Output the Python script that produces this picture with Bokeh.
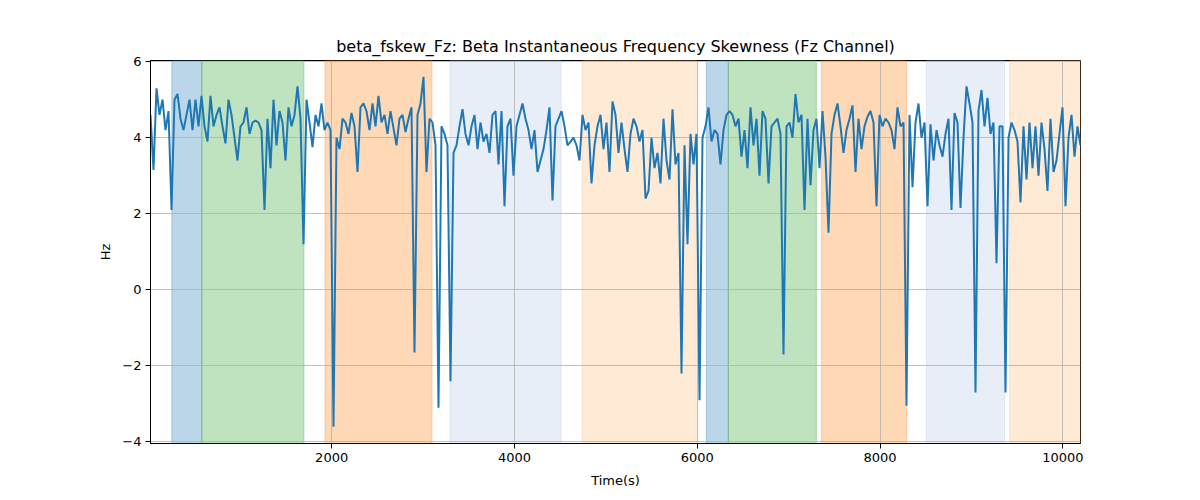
import numpy as np
from bokeh.plotting import figure
from bokeh.models import Range1d, FixedTicker, BoxAnnotation
from bokeh.embed import file_html
from bokeh.resources import INLINE

# time axis: uniform sampling from t_start to t_end
t_start = 18
t_end = 10193

fskew = [
    4.6, 3.15, 5.3, 4.6, 5.0, 4.2, 4.7, 2.1, 5.0, 5.15,
    4.5, 4.2, 4.6, 5.0, 4.2, 5.0, 4.3, 5.1, 4.3, 3.9,
    5.1, 4.3, 4.6, 4.8, 4.3, 3.85, 5.0, 4.6, 4.0, 3.4,
    4.3, 4.4, 4.8, 4.1, 4.4, 4.45, 4.4, 4.2, 2.1, 4.5,
    3.2, 5.0, 3.8, 4.7, 4.4, 3.4, 4.8, 4.3, 4.6, 5.35,
    4.5, 1.2, 5.0, 4.4, 3.75, 4.6, 4.3, 4.9, 4.2, 4.4,
    4.2, -3.6, 4.0, 3.7, 4.5, 4.4, 4.1, 4.65, 4.3, 3.1,
    4.8, 4.9, 4.7, 4.2, 4.9, 4.3, 5.1, 4.4, 4.6, 4.1,
    4.7, 4.25, 3.8, 4.5, 4.6, 4.15, 4.5, 4.8, -1.65, 4.6,
    4.9, 5.6, 3.1, 4.5, 4.4, 3.8, -3.1, 4.3, 4.1, 3.8,
    -2.4, 3.6, 3.8, 4.3, 4.75, 4.1, 3.8, 4.3, 4.6, 3.7,
    4.4, 3.9, 4.1, 3.6, 4.6, 4.7, 3.3, 4.7, 2.2, 4.3,
    4.5, 3.0, 4.3, 4.6, 4.9, 4.5, 4.2, 3.7, 4.2, 3.1,
    3.4, 3.7, 4.2, 4.8, 2.35, 4.3, 4.5, 4.7, 4.3, 3.8,
    3.9, 4.0, 3.8, 3.4, 4.6, 4.2, 4.4, 2.8, 3.8, 4.3,
    4.6, 3.7, 4.4, 3.1, 4.95, 4.6, 3.6, 4.4, 3.7, 3.1,
    4.1, 4.5, 4.3, 3.9, 4.2, 2.4, 2.6, 4.0, 3.2, 3.6,
    2.8, 4.5, 3.4, 2.9, 4.75, 3.3, 3.6, -2.2, 3.8, 1.2,
    4.1, 3.3, 4.1, -2.9, 4.0, 4.3, 4.8, 3.9, 4.2, 4.1,
    3.3, 4.2, 4.6, 4.7, 4.6, 4.3, 4.5, 3.5, 4.2, 3.2,
    4.8, 3.8, 4.5, 3.0, 4.7, 4.5, 2.8, 4.3, 4.4, 4.5,
    4.1, -1.7, 4.3, 4.4, 4.0, 5.15, 4.4, 4.6, 2.1, 4.5,
    2.75, 4.2, 4.5, 3.2, 4.7, 3.5, 1.5, 4.1, 4.6, 4.9,
    4.3, 3.6, 4.2, 4.5, 4.85, 3.1, 4.5, 3.7, 4.3, 4.55,
    4.7, 4.4, 2.2, 4.6, 4.3, 4.5, 4.4, 4.2, 3.7, 4.8,
    4.3, 4.4, -3.05, 4.6, 2.7, 4.4, 4.9, 4.0, 4.4, 2.2,
    4.35, 3.4, 4.2, 3.8, 3.5, 4.1, 4.5, 2.1, 4.65, 4.4,
    2.15, 4.0, 5.35, 4.9, 4.4, -2.7, 4.7, 5.25, 4.3, 5.05,
    4.1, 4.4, 0.7, 4.3, 4.3, -2.7, 4.0, 4.4, 4.2, 3.9,
    2.3, 4.3, 2.9, 4.4, 3.2, 4.3, 3.0, 4.4, 3.7, 2.6,
    4.5, 3.1, 3.4, 4.1, 4.8, 2.2, 4.0, 4.6, 3.5, 4.3,
    3.8,
]

# shaded phases: start, end, colour
span_starts = [251, 580, 1927, 3295, 4741, 6099, 6340, 7358, 8508, 9417]
span_ends = [580, 1697, 3098, 4511, 5989, 6340, 7303, 8289, 9362, 10193]
span_colors = ["#1f77b4", "#2ca02c", "#ff7f0e", "#aec7e8", "#ffbb78",
               "#1f77b4", "#2ca02c", "#ff7f0e", "#aec7e8", "#ffbb78"]

x_ticks = [2000, 4000, 6000, 8000, 10000]
y_ticks = [-4, -2, 0, 2, 4, 6]

time = np.linspace(t_start, t_end, len(fskew))

p = figure(frame_width=930, frame_height=383,
           min_border_left=150, min_border_right=112,
           min_border_top=60, min_border_bottom=49,
           x_range=Range1d(t_start, t_end), y_range=Range1d(-4.04, 6.03),
           output_backend="svg", toolbar_location=None,
           title="beta_fskew_Fz: Beta Instantaneous Frequency Skewness (Fz Channel)")

p.title.align = "center"
p.title.text_font = "DejaVu Sans"
p.title.text_font_size = "16px"
p.title.text_font_style = "normal"
p.title.text_color = "black"

for s, e, c in zip(span_starts, span_ends, span_colors):
    p.add_layout(BoxAnnotation(left=s, right=e, fill_color=c, fill_alpha=0.3,
                               line_color=c, line_alpha=0.3, level="image"))

p.line(time, fskew, line_color="#1f77b4", line_width=2)

p.xaxis.ticker = FixedTicker(ticks=x_ticks)
p.yaxis.ticker = FixedTicker(ticks=y_ticks)
p.xaxis.axis_label = "Time(s)"
p.yaxis.axis_label = "Hz"
for ax in (p.xaxis, p.yaxis):
    ax.axis_label_text_font = "DejaVu Sans"
    ax.axis_label_text_font_size = "13px"
    ax.axis_label_text_font_style = "normal"
    ax.axis_label_text_color = "black"
    ax.major_label_text_font = "DejaVu Sans"
    ax.major_label_text_font_size = "13px"
    ax.major_label_text_color = "black"
    ax.minor_tick_line_color = None
    ax.major_tick_out = 5
    ax.major_tick_in = 0
    ax.axis_line_color = "black"
p.yaxis.major_label_standoff = 4
p.xaxis.major_label_standoff = 4
p.yaxis.axis_label_standoff = 6
p.xaxis.axis_label_standoff = 8

p.grid.grid_line_color = "#b0b0b0"
p.grid.grid_line_width = 0.8
p.outline_line_color = "black"
p.outline_line_width = 1
p.outline_line_alpha = 1

open("out.html", "w").write(file_html(p, INLINE))
